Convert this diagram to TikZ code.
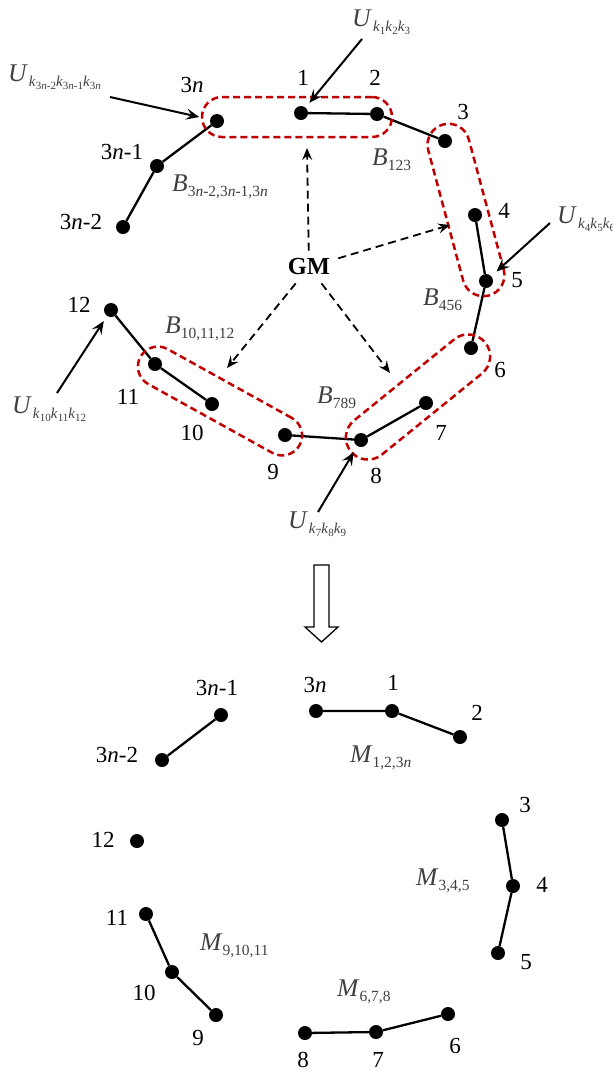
\documentclass[tikz,border=0pt]{standalone}
\usepackage{fontspec}
\setmainfont{Liberation Serif}
\usetikzlibrary{arrows.meta}
\definecolor{labgray}{RGB}{64,64,64}
\definecolor{boxred}{RGB}{192,0,0}
\newcommand\numfont{\fontsize{23}{23}\selectfont}
\newcommand\bigfont{\fontsize{25.5}{25.5}\selectfont}
\newcommand\subU[1]{\raisebox{-5.5pt}{\fontsize{15}{15}\selectfont #1}}
\newcommand\kk[1]{\textit{k}\raisebox{-2.5pt}{\fontsize{11}{11}\selectfont #1}}
\newcommand\Ulab[1]{{\bigfont\textit{U}}\kern1pt\subU{#1}}
\newcommand\sublab[2]{{\bigfont\textit{#1}}\raisebox{-5pt}{\fontsize{15.5}{15.5}\selectfont #2}}
\newcommand\nn{\textit{n}}

\begin{document}
\begin{tikzpicture}[x=1pt,y=-1pt,
  dot/.style={circle,fill=black,inner sep=0pt,minimum size=14pt},
  num/.style={font=\numfont,inner sep=0pt},
  glab/.style={text=labgray,anchor=base west,inner sep=0pt},
  link/.style={line width=2.3pt},
  redbox/.style={draw=boxred,line width=2.5pt,dash pattern=on 7pt off 4pt,rectangle,inner sep=0pt},
  uarrow/.style={line width=2pt,-{Stealth[length=13pt,width=11pt,inset=5pt]}},
  gmarrow/.style={line width=1.8pt,dash pattern=on 8pt off 5pt,-{Stealth[length=12pt,width=10pt,inset=4.5pt]}},
]
\useasboundingbox (0,0) rectangle (613,1072);

% ---------- upper ring ----------
\node[dot] (a3n) at (217,121) {};
\node[dot] (a1) at (301,113) {};
\node[dot] (a2) at (377,114) {};
\node[dot] (a3) at (445,141) {};
\node[dot] (a4) at (475,215) {};
\node[dot] (a5) at (486,281) {};
\node[dot] (a6) at (471,348) {};
\node[dot] (a7) at (426,403) {};
\node[dot] (a8) at (361,440) {};
\node[dot] (a9) at (285,435) {};
\node[dot] (a10) at (212,404) {};
\node[dot] (a11) at (155,364) {};
\node[dot] (a12) at (111,310) {};
\node[dot] (a3n1) at (157,166) {};
\node[dot] (a3n2) at (123,227) {};

\draw[link] (a3n2) -- (a3n1) -- (a3n);
\draw[link] (a1) -- (a2) -- (a3);
\draw[link] (a4) -- (a5) -- (a6);
\draw[link] (a7) -- (a8) -- (a9);
\draw[link] (a10) -- (a11) -- (a12);

\node[num] (l3n) at (192,85) {3\nn};
\node[num] (l1) at (303,78) {1};
\node[num] (l2) at (375,78) {2};
\node[num] (l3) at (463,112) {3};
\node[num] (l4) at (504,211) {4};
\node[num] (l5) at (517,280) {5};
\node[num] (l6) at (500,370) {6};
\node[num] (l7) at (441,433) {7};
\node[num] (l8) at (376,476) {8};
\node[num] (l9) at (273,472) {9};
\node[num] (l10) at (192,433) {10};
\node[num] (l11) at (128,397) {11};
\node[num] (l12) at (79,305) {12};
\node[num] (l3n1) at (122,152) {3\nn-1};
\node[num] (l3n2) at (81,222) {3\nn-2};

% dashed groups
\node[redbox,minimum width=190pt,minimum height=40pt,rounded corners=20pt] (bx1) at (297,117) {};
\node[redbox,minimum width=177pt,minimum height=42pt,rounded corners=21pt,rotate=-75] (bx2) at (466,210) {};
\node[redbox,minimum width=173pt,minimum height=44pt,rounded corners=22pt,rotate=39] (bx3) at (418,397) {};
\node[redbox,minimum width=182pt,minimum height=40pt,rounded corners=20pt,rotate=-29] (bx4) at (220,401) {};

\node[glab] (b3n) at (172,191) {\sublab{B}{3\nn-2,3\nn-1,3\nn}};
\node[glab] (b123) at (372,165) {\sublab{B}{123}};
\node[glab] (b456) at (423,305) {\sublab{B}{456}};
\node[glab] (b789) at (317,403) {\sublab{B}{789}};
\node[glab] (b101112) at (165,333) {\sublab{B}{10,11,12}};

% GM and its dashed arrows
\node[font=\bfseries\fontsize{24.5}{24.5}\selectfont,inner sep=8pt] (gm) at (309,267) {GM};
\coordinate (gu) at (307,148);
\coordinate (gr) at (450,225);
\coordinate (gl) at (227,368);
\coordinate (gd) at (390,373);
\draw[gmarrow] (gm) -- (gu);
\draw[gmarrow] (gm) -- (gr);
\draw[gmarrow] (gm) -- (gl);
\draw[gmarrow] (gm) -- (gd);

% U labels and arrows
\node[glab] (u1) at (352,26) {\Ulab{\kk{1}\kk{2}\kk{3}}};
\node[glab] (u3n) at (8,81) {\Ulab{\kk{3\nn-2}\kk{3\nn-1}\kk{3\nn}}};
\node[glab] (u5) at (557,223) {\Ulab{\kk{4}\kk{5}\kk{6}}};
\node[glab] (u12) at (12,413) {\Ulab{\kk{10}\kk{11}\kk{12}}};
\node[glab] (u8) at (288,528) {\Ulab{\kk{7}\kk{8}\kk{9}}};
\coordinate (t1) at (362,39);
\coordinate (t3n) at (110,97);
\coordinate (t5) at (550,223);
\coordinate (t12) at (57,393);
\coordinate (t8) at (318,512);
\draw[uarrow,shorten >=6pt] (t1) -- (a1);
\draw[uarrow,shorten >=11pt] (t3n) -- (a3n);
\draw[uarrow,shorten >=7pt] (t5) -- (a5);
\draw[uarrow,shorten >=6pt] (t12) -- (a12);
\draw[uarrow,shorten >=7pt] (t8) -- (a8);

% hollow transition arrow
\draw[line width=1.3pt,fill=white] (314,565) -- (329,565) -- (329,627) -- (338,627)
  -- (321.5,642) -- (305,627) -- (314,627) -- cycle;

% ---------- lower ring ----------
\node[dot] (c3n1) at (221,715) {};
\node[dot] (c3n2) at (162,760) {};
\node[dot] (c3n) at (316,711) {};
\node[dot] (c1) at (392,711) {};
\node[dot] (c2) at (460,737) {};
\node[dot] (c3) at (502,820) {};
\node[dot] (c4) at (513,886) {};
\node[dot] (c5) at (498,953) {};
\node[dot] (c6) at (448,1014) {};
\node[dot] (c7) at (376,1032) {};
\node[dot] (c8) at (305,1033) {};
\node[dot] (c9) at (216,1015) {};
\node[dot] (c10) at (172,972) {};
\node[dot] (c11) at (146,914) {};
\node[dot] (c12) at (137,841) {};

\draw[link] (c3n2) -- (c3n1);
\draw[link] (c3n) -- (c1) -- (c2);
\draw[link] (c3) -- (c4) -- (c5);
\draw[link] (c6) -- (c7) -- (c8);
\draw[link] (c9) -- (c10) -- (c11);

\node[num] (m3n1) at (217,688) {3\nn-1};
\node[num] (m3n2) at (117,755) {3\nn-2};
\node[num] (m3n) at (315,685) {3\nn};
\node[num] (m1) at (393,683) {1};
\node[num] (m2) at (477,713) {2};
\node[num] (m3) at (525,805) {3};
\node[num] (m4) at (542,885) {4};
\node[num] (m5) at (526,962) {5};
\node[num] (m6) at (455,1046) {6};
\node[num] (m7) at (378,1060) {7};
\node[num] (m8) at (303,1060) {8};
\node[num] (m9) at (198,1038) {9};
\node[num] (m10) at (144,993) {10};
\node[num] (m11) at (117,918) {11};
\node[num] (m12) at (103,840) {12};

\node[glab] (g123n) at (350,762) {\sublab{M}{1,2,3\nn}};
\node[glab] (g345) at (416,885) {\sublab{M}{3,4,5}};
\node[glab] (g91011) at (200,950) {\sublab{M}{9,10,11}};
\node[glab] (g678) at (337,996) {\sublab{M}{6,7,8}};
\end{tikzpicture}
\end{document}
